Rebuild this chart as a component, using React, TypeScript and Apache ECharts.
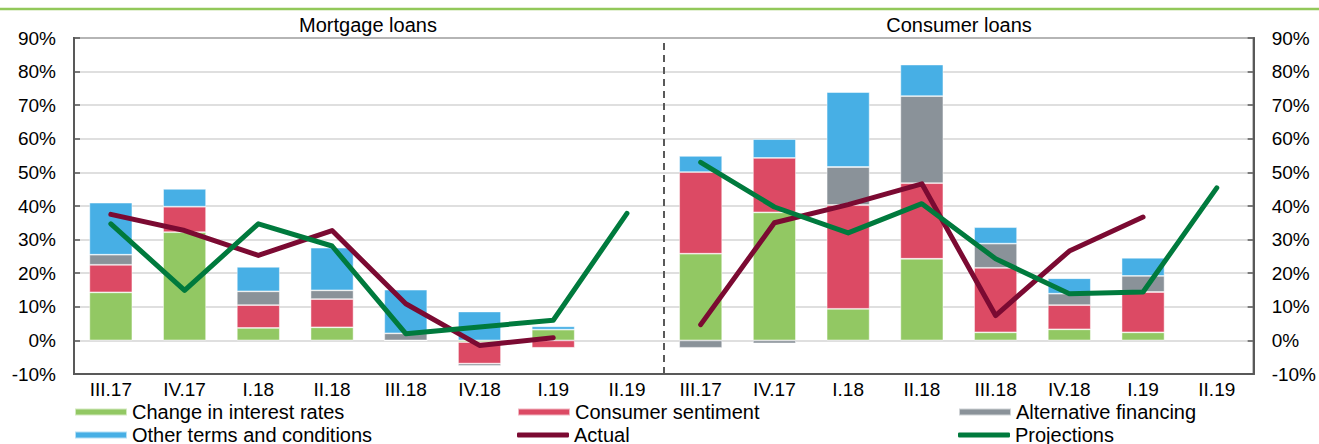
import React, { useEffect, useRef } from "react";
import * as echarts from "echarts";

// ---------- data ----------
const sections = ["Mortgage loans", "Consumer loans"];
const quarters = ["III.17", "IV.17", "I.18", "II.18", "III.18", "IV.18", "I.19", "II.19"];

const rateMortgage = [14.3, 32.2, 3.7, 3.9, 0, -0.5, 3.2, null];
const rateConsumer = [25.8, 38.1, 9.4, 24.3, 2.4, 3.3, 2.4, null];

const sentimentMortgage = [8.2, 7.6, 6.8, 8.4, 0, -6.4, -2.2, null];
const sentimentConsumer = [24.3, 16.2, 30.9, 22.5, 19.2, 7.2, 12.0, null];

const altMortgage = [3.0, 0, 4.1, 2.6, 2.1, -0.7, -0.2, null];
const altConsumer = [-2.2, -0.9, 11.3, 25.9, 7.2, 3.4, 4.8, null];

const otherMortgage = [15.5, 5.3, 7.3, 12.7, 13.0, 8.6, 1.0, null];
const otherConsumer = [4.8, 5.6, 22.3, 9.4, 4.9, 4.6, 5.4, null];

const actualMortgage = [37.5, 32.7, 25.3, 32.7, 10.9, -1.5, 0.8, null];
const actualConsumer = [4.7, 35.0, 40.4, 46.6, 7.4, 26.6, 36.7, null];

const projMortgage = [34.7, 14.9, 34.7, 28.1, 2.0, 4.0, 6.0, 37.8];
const projConsumer = [53.0, 39.7, 32.0, 40.7, 24.3, 13.9, 14.4, 45.4];

const yMin = -10;
const yMax = 90;
const yInterval = 10;

// ---------- derived ----------
const categories = sections.flatMap((s) => quarters.map((q) => `${s}|${q}`));
const empty = quarters.map(() => null);
const both = (a: (number | null)[], b: (number | null)[]) => [...a, ...b];
const firstOnly = (a: (number | null)[]) => [...a, ...empty];
const secondOnly = (b: (number | null)[]) => [...empty, ...b];

const FONT = "'Liberation Sans', Arial, sans-serif";
const TXT = "#000000";
const AXIS = "#595959";

const C_GREEN = "#92C863";
const C_RED = "#DC4A64";
const C_GRAY = "#8A9299";
const C_BLUE = "#47AFE5";
const C_ACTUAL = "#7B0A32";
const C_PROJ = "#007A3D";

function barSeries(name: string, color: string, data: (number | null)[], extra: any = {}) {
  return {
    name,
    type: "bar",
    stack: "total",
    barWidth: 43,
    itemStyle: { color, borderColor: "rgba(255,255,255,0.6)", borderWidth: 0.8 },
    data,
    ...extra,
  };
}

function lineSeries(name: string, color: string, data: (number | null)[]) {
  return {
    name,
    type: "line",
    symbol: "none",
    connectNulls: false,
    lineStyle: { color, width: 5, cap: "round", join: "round" },
    itemStyle: { color },
    data,
  };
}

const yAxisCommon = {
  type: "value",
  min: yMin,
  max: yMax,
  interval: yInterval,
  axisLine: { show: true, lineStyle: { color: AXIS, width: 2 } },
  axisTick: { show: true, inside: true, length: 6, lineStyle: { color: AXIS, width: 1.5 } },
  axisLabel: {
    formatter: "{value}%",
    color: TXT,
    fontSize: 19,
    fontFamily: FONT,
    margin: 18,
  },
};

const legendSlots = [
  { name: "Change in interest rates", left: 74, top: 402, h: 7 },
  { name: "Consumer sentiment", left: 517, top: 402, h: 7 },
  { name: "Alternative financing", left: 958, top: 402, h: 7 },
  { name: "Other terms and conditions", left: 74, top: 425, h: 7 },
  { name: "Actual", left: 517, top: 425, h: 5 },
  { name: "Projections", left: 958, top: 425, h: 5 },
];

const option: any = {
  animation: false,
  backgroundColor: "#ffffff",
  textStyle: { fontFamily: FONT },
  grid: {
    left: 74,
    right: 65,
    top: 38,
    bottom: 70,
    show: true,
    borderColor: AXIS,
    borderWidth: 2,
    backgroundColor: "transparent",
  },
  legend: legendSlots.map((l) => ({
    data: [l.name],
    left: l.left,
    top: l.top,
    padding: 0,
    itemWidth: 52,
    itemHeight: l.h,
    icon: l.h === 5 ? "roundRect" : "rect",
    selectedMode: false,
    textStyle: { color: TXT, fontSize: 20, fontFamily: FONT, lineHeight: 20 },
  })),
  xAxis: [
    {
      type: "category",
      data: categories,
      boundaryGap: true,
      axisLine: { show: true, onZero: false, lineStyle: { color: AXIS, width: 2 } },
      axisTick: { show: false },
      axisLabel: {
        interval: 0,
        formatter: (v: string) => v.split("|")[1],
        color: TXT,
        fontSize: 19,
        fontFamily: FONT,
        margin: 6,
      },
      splitLine: { show: false },
    },
    {
      type: "value",
      min: 0,
      max: categories.length,
      show: false,
      position: "top",
    },
  ],
  yAxis: [
    {
      ...yAxisCommon,
      position: "left",
      splitLine: { show: true, lineStyle: { color: "#D4D4D4", width: 1.5 } },
    },
    {
      ...yAxisCommon,
      position: "right",
      splitLine: { show: false },
    },
  ],
  graphic: [
    {
      type: "line",
      shape: { x1: 0, y1: 9, x2: 1319, y2: 9 },
      style: { stroke: "#92C85A", lineWidth: 2.5 },
      silent: true,
    },
    {
      type: "text",
      x: 368,
      y: 25,
      style: {
        text: sections[0],
        fill: TXT,
        fontSize: 20,
        fontFamily: FONT,
        textAlign: "center",
        textVerticalAlign: "middle",
      },
    },
    {
      type: "text",
      x: 959,
      y: 25,
      style: {
        text: sections[1],
        fill: TXT,
        fontSize: 20,
        fontFamily: FONT,
        textAlign: "center",
        textVerticalAlign: "middle",
      },
    },
  ],
  series: [
    barSeries("Change in interest rates", C_GREEN, both(rateMortgage, rateConsumer)),
    barSeries("Consumer sentiment", C_RED, both(sentimentMortgage, sentimentConsumer)),
    barSeries("Alternative financing", C_GRAY, both(altMortgage, altConsumer)),
    barSeries("Other terms and conditions", C_BLUE, both(otherMortgage, otherConsumer)),
    lineSeries("Actual", C_ACTUAL, firstOnly(actualMortgage)),
    lineSeries("Actual", C_ACTUAL, secondOnly(actualConsumer)),
    lineSeries("Projections", C_PROJ, firstOnly(projMortgage)),
    lineSeries("Projections", C_PROJ, secondOnly(projConsumer)),
    {
      name: "separator",
      type: "scatter",
      xAxisIndex: 1,
      yAxisIndex: 0,
      data: [[quarters.length, null]],
      symbolSize: 0,
      silent: true,
      markLine: {
        silent: true,
        symbol: ["none", "none"],
        label: { show: false },
        lineStyle: { type: [7, 5], color: AXIS, width: 2 },
        data: [{ xAxis: quarters.length }],
      },
    },
  ],
};

export default function App() {
  const ref = useRef<HTMLDivElement>(null);
  useEffect(() => {
    const chart = echarts.init(ref.current!, null, { renderer: "svg" });
    chart.setOption(option);
    return () => chart.dispose();
  }, []);
  return (
    <div
      ref={ref}
      style={{ position: "absolute", left: 0, top: 0, width: 1319, height: 444, background: "#fff" }}
    />
  );
}
